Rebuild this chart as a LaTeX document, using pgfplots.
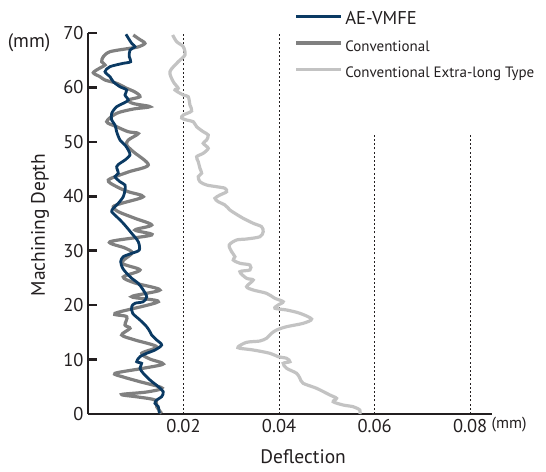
\documentclass[border=0pt]{standalone}
\usepackage{pgfplots}
\pgfplotsset{compat=1.18}
\usepackage{fontspec}
\setmainfont{PT Sans}
\definecolor{aeblue}{HTML}{0B3A63}
\definecolor{convgray}{HTML}{808080}
\definecolor{longgray}{HTML}{C3C3C3}
\definecolor{axiscol}{HTML}{231F20}
\begin{document}
\begin{tikzpicture}
\useasboundingbox (0,0) rectangle (546bp,472bp);
\begin{axis}[
  at={(88bp,58bp)}, anchor=south west,
  scale only axis, width=403.7bp, height=381bp,
  xmin=0, xmax=0.0845, ymin=0, ymax=70,
  scaled x ticks=false,
  axis x line*=bottom, axis y line*=left,
  axis line style={-, line width=2.6bp, color=axiscol},
  tick align=inside, major tick length=9bp,
  ytick={0,10,20,30,40,50,60,70},
  yticklabels={0,10,20,30,40,50,60,70},
  xtick={0.02,0.04,0.06,0.08},
  xticklabels={0.02,0.04,0.06,0.08},
  x tick style={draw=none},
  y tick style={line width=2.6bp, color=axiscol},
  tick label style={font=\fontsize{18.5bp}{20bp}\selectfont, color=axiscol},
  xticklabel style={yshift=-2bp},
  yticklabel style={xshift=-1bp},
  every axis y label/.style={at={(axis description cs:-0.119,0.496)}, rotate=90, anchor=center},
  every axis x label/.style={at={(axis description cs:0.533,-0.113)}, anchor=center},
  ylabel={\fontsize{19.5bp}{21bp}\selectfont Machining Depth},
  xlabel={\fontsize{19.5bp}{21bp}\selectfont Deflection},
  label style={color=axiscol},
  clip=false,
  legend style={at={(axis cs:0.0432,73.8)}, anchor=north west, draw=none, fill=none,
    inner xsep=0pt, inner ysep=0pt, row sep=10.5bp,
    nodes={inner xsep=2.5bp, inner ysep=1bp, anchor=west, text height=11bp, text depth=3bp, text=axiscol}},
  legend cell align=left,
  legend image code/.code={\draw[#1] (0bp,4bp) -- (45bp,4bp);},
]
\addlegendimage{aeblue, line width=2.8bp}
\addlegendentry{\fontsize{18.5bp}{20bp}\selectfont AE-VMFE}
\addlegendimage{convgray, line width=3.2bp}
\addlegendentry{\fontsize{15bp}{17bp}\selectfont Conventional}
\addlegendimage{longgray, line width=3.2bp}
\addlegendentry{\fontsize{15bp}{17bp}\selectfont Conventional Extra-long Type}

% reference dashed lines
\draw[axiscol, line width=1.2bp, dash pattern=on 2bp off 2.2bp] (axis cs:0.02,0) -- (axis cs:0.02,70);
\draw[axiscol, line width=1.2bp, dash pattern=on 2bp off 2.2bp] (axis cs:0.04,0) -- (axis cs:0.04,70);
\draw[axiscol, line width=1.2bp, dash pattern=on 2bp off 2.2bp] (axis cs:0.06,0) -- (axis cs:0.06,51.3);
\draw[axiscol, line width=1.2bp, dash pattern=on 2bp off 2.2bp] (axis cs:0.08,0) -- (axis cs:0.08,51.3);

% Conventional Extra-long Type
\addplot[forget plot, longgray, line width=3.2bp, smooth, tension=0.5] coordinates {
(0.01772,69.63)(0.01856,68.40)(0.01994,67.48)(0.02029,65.96)(0.01889,64.72)(0.01715,62.89)
(0.01785,61.05)(0.01889,59.84)(0.01820,59.53)(0.01994,58.61)(0.02098,58.29)(0.02134,56.77)
(0.02169,55.67)(0.01994,54.93)(0.01960,54.38)(0.02065,54.01)(0.02203,53.70)(0.02274,52.78)
(0.02412,51.86)(0.02517,51.26)(0.02483,50.34)(0.02412,49.73)(0.02517,48.81)(0.02412,47.90)
(0.02274,47.27)(0.02308,46.35)(0.02343,45.14)(0.02379,44.22)(0.02308,43.60)(0.02343,42.68)
(0.02483,42.07)(0.02692,41.76)(0.02866,41.47)(0.02902,40.84)(0.02762,40.23)(0.02657,39.63)
(0.02726,39.00)(0.02866,38.40)(0.02971,37.48)(0.03075,36.87)(0.03249,35.95)(0.03458,35.04)
(0.03634,34.41)(0.03667,33.49)(0.03598,32.57)(0.03320,32.15)(0.03111,31.97)(0.02956,31.05)
(0.03006,29.82)(0.03075,28.90)(0.03040,28.29)(0.03180,27.69)(0.03389,27.37)(0.03389,26.46)
(0.03180,26.14)(0.03320,24.93)(0.03458,24.62)(0.03320,23.39)(0.03458,22.78)(0.03738,22.17)
(0.03912,21.26)(0.04086,20.63)(0.03981,20.03)(0.03912,19.42)(0.04157,19.11)(0.04435,18.50)
(0.04680,17.45)(0.04504,16.66)(0.04157,16.04)(0.03948,15.43)(0.03843,14.83)(0.03772,14.20)
(0.03738,13.91)(0.03598,13.41)(0.03320,13.17)(0.03144,12.36)(0.03180,12.07)(0.03458,11.76)
(0.03808,11.15)(0.03981,10.53)(0.04157,10.23)(0.04226,9.61)(0.04086,9.31)(0.04157,8.40)
(0.04366,7.48)(0.04435,6.56)(0.04504,5.64)(0.04785,4.72)(0.05063,3.49)(0.05203,2.88)
(0.05132,2.26)(0.05341,1.65)(0.05550,1.34)(0.05690,0.73)(0.05690,0)
};

% Conventional
\addplot[forget plot, convgray, line width=3.2bp, smooth, tension=0.5] coordinates {
(0.00948,69.63)(0.01067,68.90)(0.01192,68.10)(0.01046,67.43)(0.00879,67.19)(0.00460,66.56)
(0.00320,65.64)(0.00287,64.72)(0.00356,64.12)(0.00251,63.57)(0.00111,62.70)(0.00251,61.97)
(0.00356,61.36)(0.00600,60.76)(0.00810,59.84)(0.00983,59.16)(0.01088,58.29)(0.00843,57.69)
(0.00948,57.04)(0.01297,56.46)(0.00948,56.03)(0.00600,55.24)(0.00391,53.70)(0.00600,52.78)
(0.00843,51.86)(0.01052,51.53)(0.00843,50.34)(0.00810,49.42)(0.00948,48.19)(0.01262,45.75)
(0.00843,44.46)(0.00425,42.99)(0.00600,41.76)(0.00843,40.84)(0.01157,39.92)(0.00705,38.71)
(0.00529,38.09)(0.00634,37.17)(0.00983,35.95)(0.01333,34.72)(0.00983,33.80)(0.01333,32.89)
(0.00460,31.65)(0.00774,30.50)(0.00921,29.58)(0.00711,27.74)(0.01088,26.46)(0.00738,25.17)
(0.00983,24.07)(0.01506,22.78)(0.00914,21.55)(0.01471,20.63)(0.00565,18.50)(0.00810,17.88)
(0.00774,16.35)(0.00879,15.74)(0.00705,14.51)(0.00983,13.60)(0.01437,12.36)(0.01123,11.15)
(0.01297,10.10)(0.01575,9.19)(0.01157,8.40)(0.00565,7.48)(0.00738,6.80)(0.01088,5.93)
(0.01548,4.78)(0.01228,4.04)(0.00705,3.58)(0.01052,3.12)(0.01402,2.57)(0.01437,1.34)
(0.01542,0.13)
};

% AE-VMFE
\addplot[forget plot, aeblue, line width=2.8bp, smooth, tension=0.5] coordinates {
(0.00795,69.76)(0.00914,68.10)(0.00983,67.48)(0.00879,66.87)(0.00864,65.64)(0.00893,64.72)
(0.00738,64.43)(0.00460,63.81)(0.00356,62.89)(0.00460,61.97)(0.00529,61.05)(0.00669,60.13)
(0.00810,59.53)(0.00774,58.61)(0.00843,57.69)(0.00738,57.08)(0.00600,56.46)(0.00496,55.24)
(0.00496,54.01)(0.00565,53.10)(0.00600,51.86)(0.00669,50.34)(0.00774,49.42)(0.00843,48.50)
(0.00879,47.58)(0.00774,46.66)(0.00669,46.06)(0.00600,45.43)(0.00634,44.22)(0.00565,43.60)
(0.00669,42.68)(0.00774,42.07)(0.00774,41.15)(0.00738,39.92)(0.00634,38.71)(0.00529,37.79)
(0.00496,37.17)(0.00600,36.25)(0.00738,35.04)(0.00914,33.20)(0.01052,31.65)(0.01073,30.13)
(0.00914,29.52)(0.00738,28.90)(0.00684,27.98)(0.00726,26.77)(0.00810,25.85)(0.00914,24.93)
(0.01052,24.01)(0.01157,22.78)(0.01228,21.55)(0.01157,20.63)(0.00983,20.34)(0.00914,19.71)
(0.00935,18.50)(0.01088,17.27)(0.01228,16.04)(0.01297,15.12)(0.01333,14.51)(0.01437,13.60)
(0.01542,12.68)(0.01402,11.76)(0.01228,11.15)(0.01088,10.53)(0.01019,9.61)(0.01123,9.31)
(0.01088,8.40)(0.01157,7.48)(0.01297,6.25)(0.01471,5.02)(0.01575,4.10)(0.01542,3.18)
(0.01437,2.57)(0.01402,1.97)(0.01471,1.34)(0.01492,0.13)
};

\node[anchor=center, color=axiscol, font=\fontsize{19.5bp}{21bp}\selectfont] at (axis description cs:-0.146,0.975) {(mm)};
\node[anchor=center, color=axiscol, font=\fontsize{16bp}{18bp}\selectfont] at (axis description cs:1.043,-0.029) {(mm)};
\end{axis}
\end{tikzpicture}
\end{document}
